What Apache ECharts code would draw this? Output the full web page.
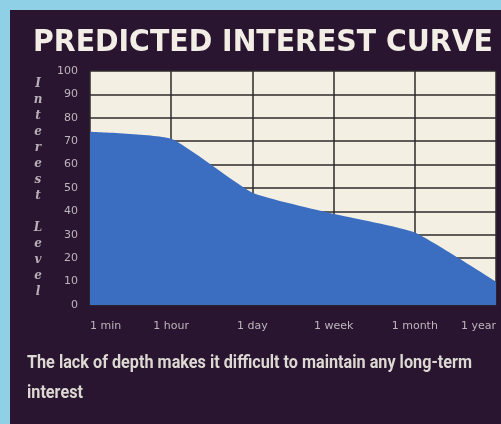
<!DOCTYPE html>
<html>
<head>
<meta charset="utf-8">
<script src="https://cdn.jsdelivr.net/npm/echarts@6/dist/echarts.min.js"></script>
<style>
  html, body { margin: 0; padding: 0; background: #8fd0e6; }
  #wrap { position: absolute; left: 10px; top: 10px; right: 0; bottom: 0; background: #2a1530; }
  #chart { position: absolute; left: 0; top: 0; width: 501px; height: 424px; }
</style>
</head>
<body>
<div id="wrap"></div>
<div id="chart"></div>
<script>
// Time horizon after first play, and how much interest remains at each point
const periods = ['1 min', '1 hour', '1 day', '1 week', '1 month', '1 year'];
const interestLevel = [74, 71, 48, 39, 31, 10];
const titleText = 'PREDICTED INTEREST CURVE';
const axisTitle = 'Interest Level';
const captionLines = ['The lack of depth makes it difficult to maintain any long-term', 'interest'];

const chart = echarts.init(document.getElementById('chart'), null, { renderer: 'canvas' });

// stack the axis title one letter per line
const stackedAxisTitle = axisTitle.split('').join('\n');

// width of a string in a given CSS font, used to squeeze wide fonts into the panel
const measureCtx = document.createElement('canvas').getContext('2d');
function textWidth(str, font) {
  measureCtx.font = font;
  return measureCtx.measureText(str).width;
}

const titleFont = 'bold 30px "DejaVu Sans"';
const titleScale = 460 / textWidth(titleText, titleFont);
const captionFont = 'bold 18px Roboto';
const captionScale = 445 / textWidth(captionLines[0], captionFont);

chart.setOption({
  backgroundColor: 'transparent',
  animation: false,
  grid: { left: 90, right: 5, top: 71, bottom: 119, containLabel: false },
  xAxis: {
    type: 'category',
    data: periods,
    boundaryGap: false,
    axisLine: { show: false },
    axisTick: { show: false },
    axisLabel: {
      color: '#bdb5bd',
      fontFamily: 'DejaVu Sans',
      fontSize: 11,
      margin: 16,
      alignMinLabel: 'left',
      alignMaxLabel: 'right'
    },
    splitLine: { show: true, lineStyle: { color: '#2c2a2a', width: 1.5 } }
  },
  yAxis: {
    type: 'value',
    min: 0,
    max: 100,
    interval: 10,
    name: stackedAxisTitle,
    nameLocation: 'middle',
    nameRotate: 0,
    nameGap: 52,
    nameTextStyle: {
      color: '#b8b0b8',
      fontFamily: 'DejaVu Serif',
      fontStyle: 'italic',
      fontWeight: 'bold',
      fontSize: 12,
      lineHeight: 16,
      align: 'center'
    },
    axisLine: { show: false },
    axisTick: { show: false },
    axisLabel: {
      color: '#bdb5bd',
      fontFamily: 'DejaVu Sans',
      fontSize: 11,
      margin: 12
    },
    splitLine: { show: true, lineStyle: { color: '#2c2a2a', width: 1.5 } }
  },
  graphic: [
    {
      type: 'rect',
      z: -1,
      shape: { x: 90, y: 71, width: 406, height: 234 },
      style: { fill: '#f3f0e3' }
    },
    {
      type: 'text',
      x: 33,
      y: 43,
      scaleX: titleScale,
      style: {
        text: titleText,
        fill: '#f2eee6',
        font: titleFont,
        verticalAlign: 'middle'
      }
    },
    {
      type: 'text',
      x: 27,
      y: 363,
      scaleX: captionScale,
      style: {
        text: captionLines[0],
        fill: '#dcd8d2',
        font: captionFont,
        verticalAlign: 'middle'
      }
    },
    {
      type: 'text',
      x: 27,
      y: 393,
      scaleX: captionScale,
      style: {
        text: captionLines[1],
        fill: '#dcd8d2',
        font: captionFont,
        verticalAlign: 'middle'
      }
    }
  ],
  series: [{
    type: 'line',
    data: interestLevel,
    smooth: 0.15,
    symbol: 'none',
    lineStyle: { width: 0 },
    areaStyle: { color: '#3b6dc0', opacity: 1 }
  }]
});
</script>
</body>
</html>
